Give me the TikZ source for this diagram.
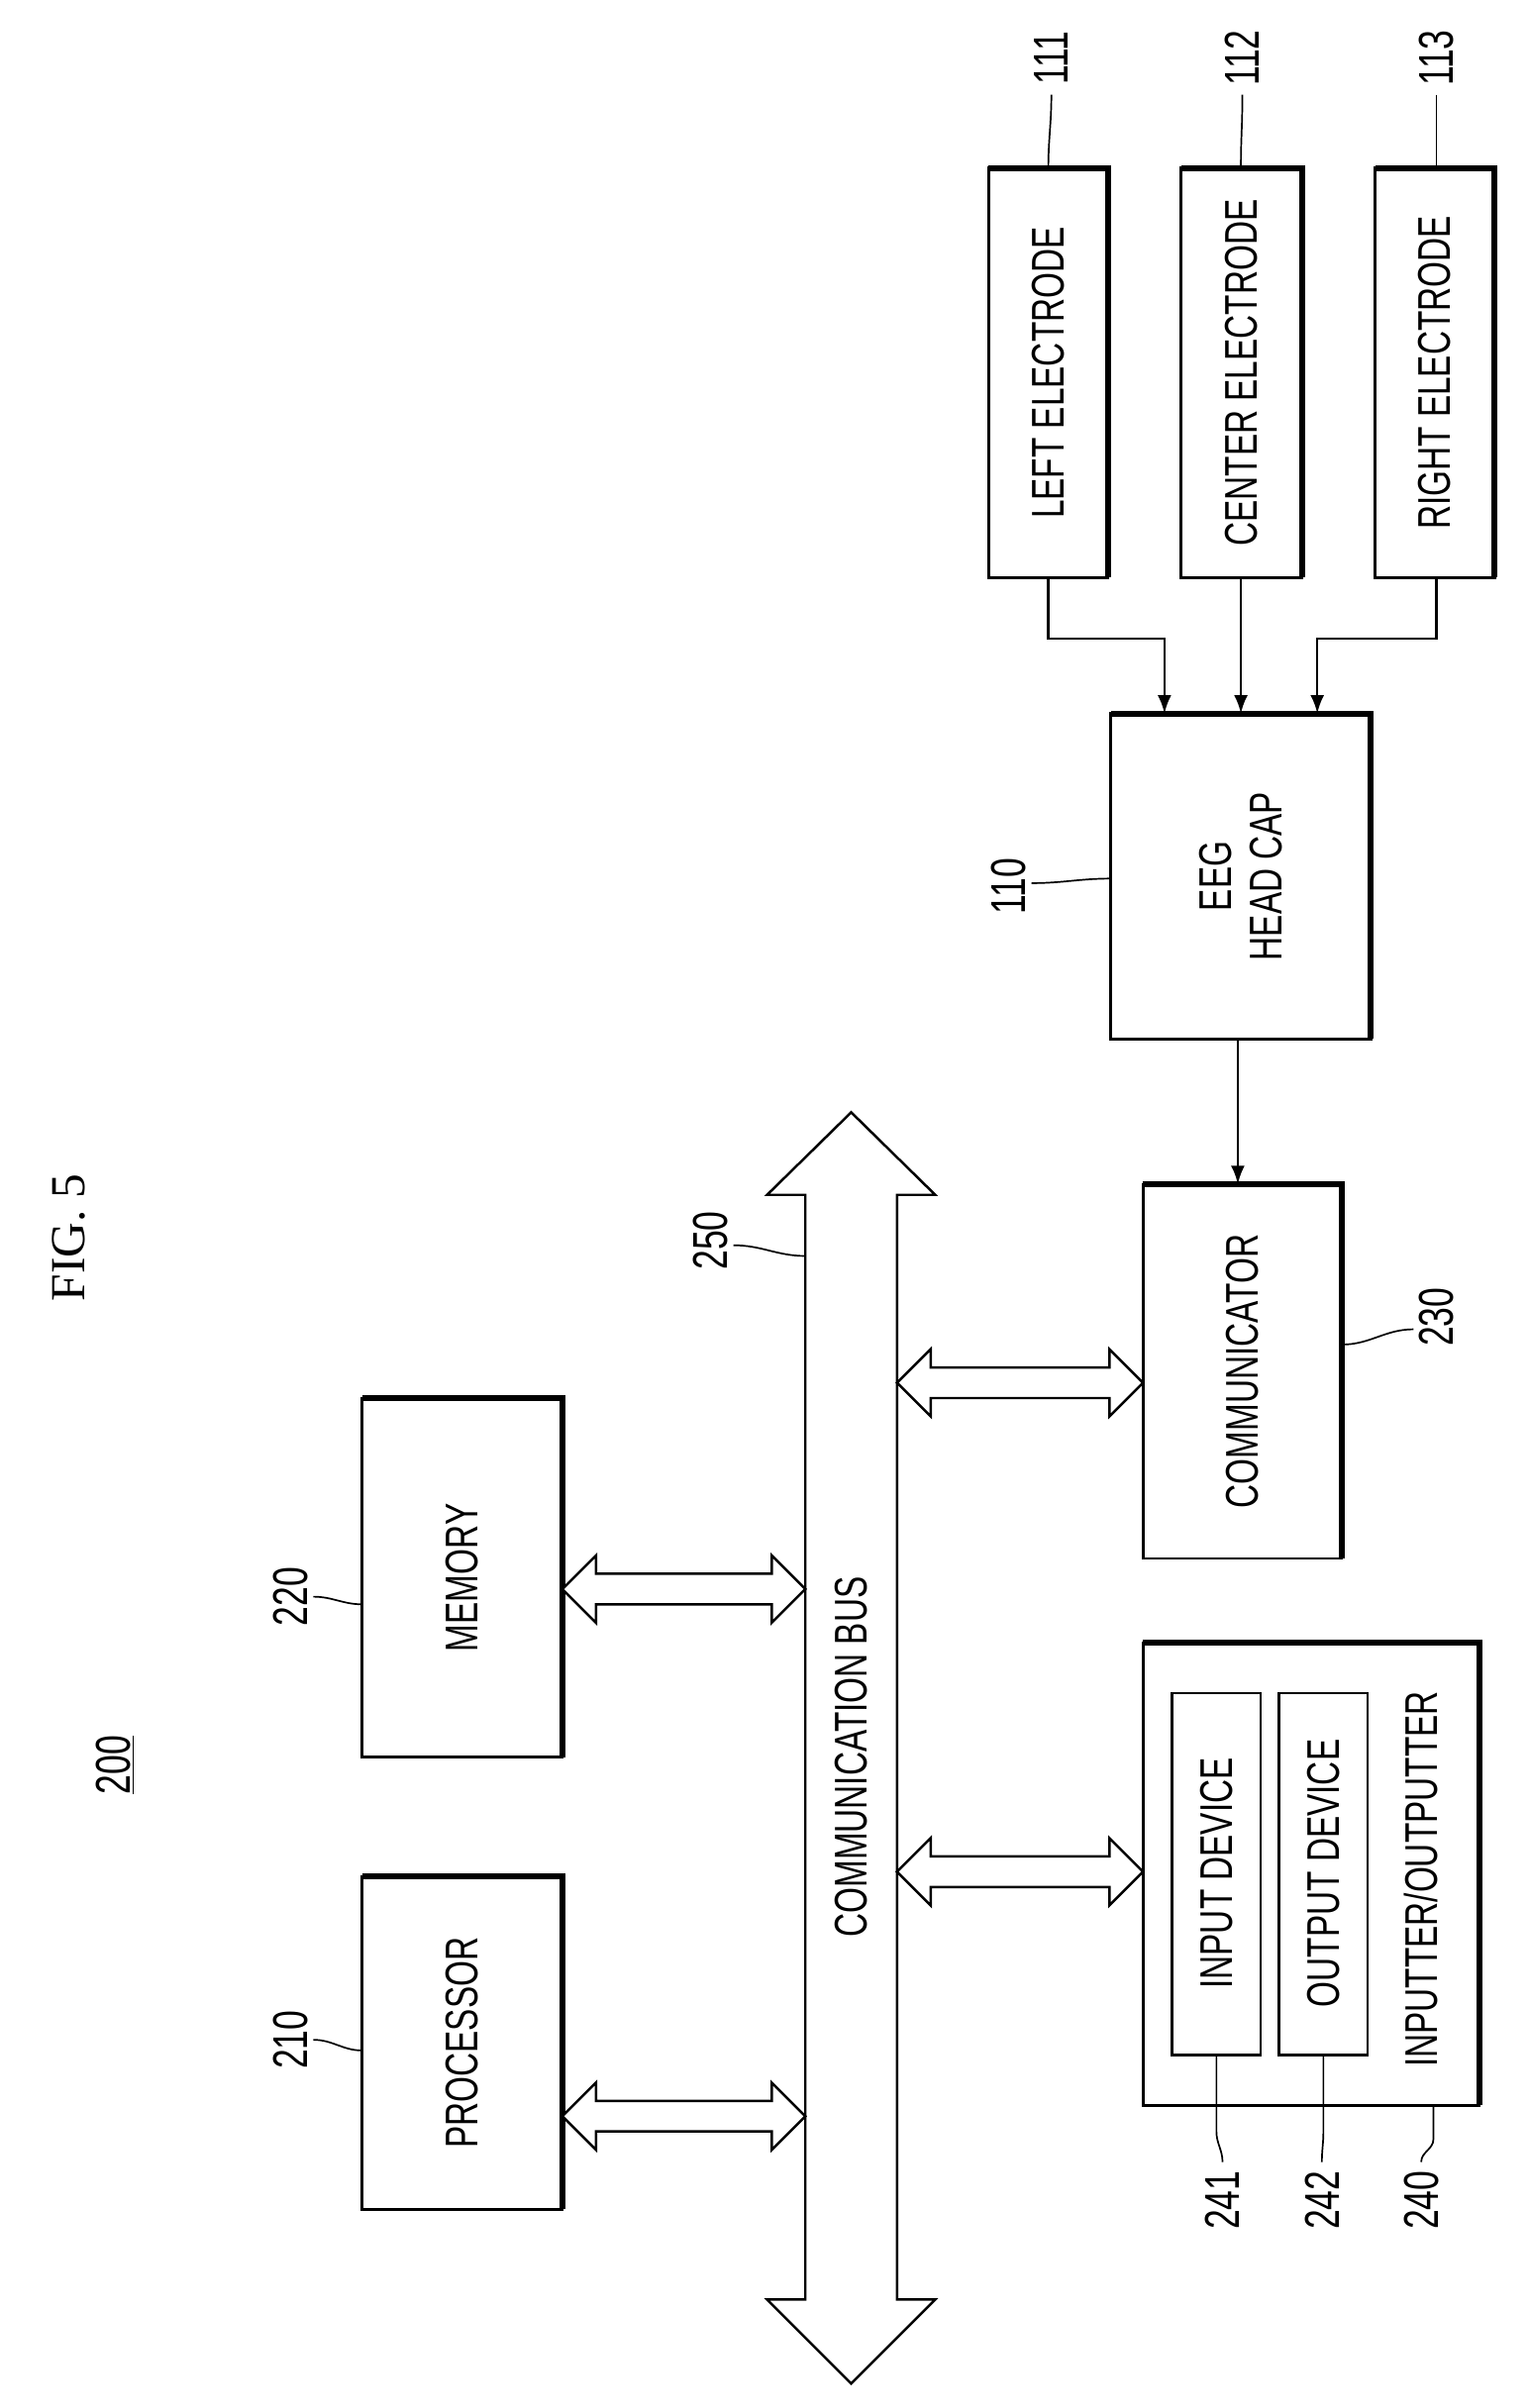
\documentclass[tikz,border=0pt]{standalone}
\usepackage{fontspec}
\usetikzlibrary{arrows.meta}
\setmainfont{Liberation Sans}
\newfontfamily\seriff{Liberation Serif}
\newcommand{\cn}[1]{\scalebox{0.72}[1]{#1}}
\begin{document}
\begin{tikzpicture}[x=1pt,y=-1pt,line width=1.8pt,
  txt/.style={rotate=90,font=\fontsize{30}{33}\selectfont,inner sep=0},
  num/.style={rotate=90,font=\fontsize{32}{34}\selectfont,inner sep=0},
  lead/.style={line width=1.1pt},
  arr/.style={-{Latex[length=12pt,width=9pt]},line width=1.6pt}]
\useasboundingbox (0,0) rectangle (1000,1576);
\newcommand{\bx}[5]{% name x1 y1 x2 y2
  \draw[line width=1.8pt] (#2,#3) rectangle (#4,#5);
  \draw[line width=4pt] (#2,#3) -- (#4,#3) -- (#4,#5);
  \coordinate (#1) at ({(#2+#4)/2},{(#3+#5)/2});}
\newcommand{\dblh}[4]{% x1 x2 y name
  \draw[line width=1.6pt,fill=white] (#1,#3) -- ({#1+22},{#3-22}) -- ({#1+22},{#3-10}) -- ({#2-22},{#3-10}) -- ({#2-22},{#3-22}) -- (#2,#3) -- ({#2-22},{#3+22}) -- ({#2-22},{#3+10}) -- ({#1+22},{#3+10}) -- ({#1+22},{#3+22}) -- cycle;}
% title
\node[rotate=90,font=\seriff\fontsize{32}{34}\selectfont] (fig) at (45,810) {FIG. 5};
\node[num] (n200) at (75,1155) {\underline{\cn{200}}};
% boxes
\bx{proc}{237}{1228}{368}{1446}
\node[txt] (tproc) at (proc) {\cn{PROCESSOR}};
\bx{mem}{237}{915}{368}{1150}
\node[txt] (tmem) at (mem) {\cn{MEMORY}};
\bx{comm}{748}{775}{878}{1020}
\node[txt] (tcomm) at (comm) {\cn{COMMUNICATOR}};
\bx{io}{748}{1075}{968}{1378}
\node[txt] (tio) at (930,1230) {\cn{INPUTTER/OUTPUTTER}};
\draw[line width=1.6pt] (767,1108) rectangle (825,1345);
\node[txt] (tin) at (796,1226) {\cn{INPUT DEVICE}};
\draw[line width=1.6pt] (837,1108) rectangle (895,1345);
\node[txt] (tout) at (866,1226) {\cn{OUTPUT DEVICE}};
\bx{eeg}{727}{467}{897}{680}
\node[txt,align=center] (teeg) at (eeg) {\cn{EEG}\\\cn{HEAD CAP}};
\bx{le}{647}{110}{725}{378}
\node[txt] (tle) at (le) {\cn{LEFT ELECTRODE}};
\bx{ce}{773}{110}{852}{378}
\node[txt] (tce) at (ce) {\cn{CENTER ELECTRODE}};
\bx{re}{900}{110}{978}{378}
\node[txt] (tre) at (re) {\cn{RIGHT ELECTRODE}};
% bus
\draw[line width=1.6pt,fill=white] (557,728) -- (612,782) -- (587,782) -- (587,1505) -- (612,1505) -- (557,1560) -- (502,1505) -- (527,1505) -- (527,782) -- (502,782) -- cycle;
\node[txt] (bus) at (557,1150) {\cn{COMMUNICATION BUS}};
% double arrows
\dblh{368}{527}{1385}{a1}
\dblh{368}{527}{1040}{a2}
\dblh{587}{748}{905}{a3}
\dblh{587}{748}{1225}{a4}
% eeg arrows
\draw[arr] (810,680) -- (810,775);
\draw[arr] (686,378) -- (686,418) -- (762,418) -- (762,467);
\draw[arr] (812,378) -- (812,467);
\draw[arr] (940,378) -- (940,418) -- (862,418) -- (862,467);
% labels
\node[num] (l210) at (190,1335) {\cn{210}};
\draw[lead] (205,1335) to[out=0,in=180] (237,1342);
\node[num] (l220) at (190,1045) {\cn{220}};
\draw[lead] (205,1045) to[out=0,in=180] (237,1050);
\node[num] (l250) at (465,812) {\cn{250}};
\draw[lead] (480,815) to[out=0,in=180] (527,822);
\node[num] (l230) at (940,862) {\cn{230}};
\draw[lead] (878,880) to[out=0,in=180] (925,870);
\node[num] (l110) at (660,580) {\cn{110}};
\draw[lead] (675,578) to[out=0,in=180] (727,575);
\node[num] (l241) at (800,1440) {\cn{241}};
\draw[lead] (796,1345) -- (796,1395) to[out=-90,in=90] (800,1415);
\node[num] (l242) at (865,1440) {\cn{242}};
\draw[lead] (866,1345) -- (866,1395) to[out=-90,in=90] (865,1415);
\node[num] (l240) at (930,1440) {\cn{240}};
\draw[lead] (938,1378) -- (938,1400) to[out=-90,in=90] (930,1415);
\node[num] (l111) at (688,38) {\cn{111}};
\draw[lead] (688,62) to[out=-90,in=90] (686,110);
\node[num] (l112) at (813,38) {\cn{112}};
\draw[lead] (813,62) to[out=-90,in=90] (812,110);
\node[num] (l113) at (940,38) {\cn{113}};
\draw[lead] (940,62) to[out=-90,in=90] (940,110);
\end{tikzpicture}
\end{document}
